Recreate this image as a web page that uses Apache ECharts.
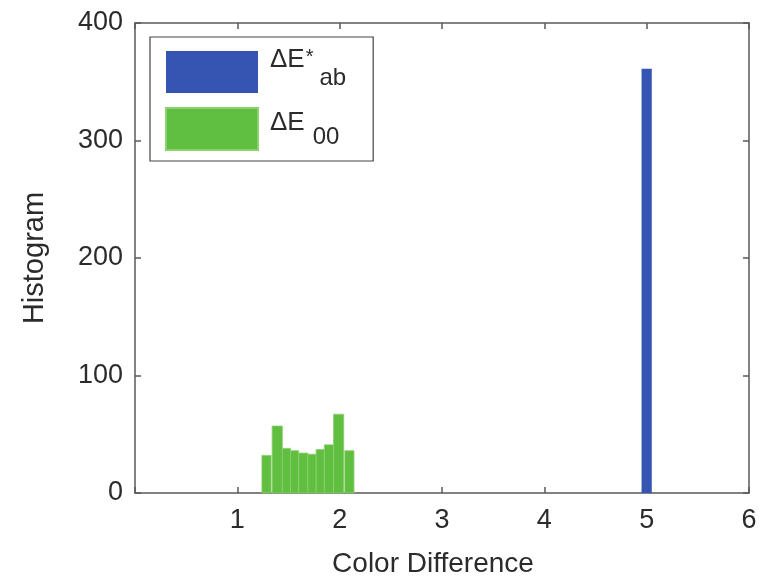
<!DOCTYPE html>
<html>
<head>
<meta charset="utf-8">
<script src="https://cdn.jsdelivr.net/npm/echarts@6/dist/echarts.min.js"></script>
<style>
  html, body { margin: 0; padding: 0; background: #fff; }
  #chart { width: 767px; height: 580px; }
</style>
</head>
<body>
<div id="chart"></div>
<script>
// Histogram bins: left edge, right edge (colour-difference units) and counts
const abBinStart = [4.95];
const abBinEnd   = [5.05];
const abCounts   = [361];

const e00BinStart = [1.24, 1.34, 1.44, 1.52, 1.60, 1.69, 1.77, 1.85, 1.94, 2.05];
const e00BinEnd   = [1.33, 1.44, 1.52, 1.60, 1.69, 1.77, 1.85, 1.94, 2.04, 2.14];
const e00Counts   = [32, 57, 38, 36, 34, 33, 37, 41, 67, 36];

const xTickValues = [0, 1, 2, 3, 4, 5, 6];
const yTickValues = [0, 100, 200, 300, 400];

const seriesNames = ['ΔE*ab', 'ΔE00'];

const FONT = '"Liberation Sans", Arial, Helvetica, sans-serif';
const AXIS_COLOR = '#5a5a5a';
const TEXT_COLOR = '#2b2b2b';

function toBins(starts, ends, counts) {
  return counts.map((c, i) => [starts[i], ends[i], c]);
}

// Each bin is a rectangle spanning its edges on the x scale, from 0 to its count
function renderBin(params, api) {
  const topLeft = api.coord([api.value(0), api.value(2)]);
  const bottomRight = api.coord([api.value(1), 0]);
  return {
    type: 'rect',
    shape: {
      x: topLeft[0],
      y: topLeft[1],
      width: bottomRight[0] - topLeft[0],
      height: bottomRight[1] - topLeft[1]
    },
    style: api.style()
  };
}

const xMin = xTickValues[0], xMax = xTickValues[xTickValues.length - 1];
const yMin = yTickValues[0], yMax = yTickValues[yTickValues.length - 1];
const xStep = xTickValues[1] - xTickValues[0];
const yStep = yTickValues[1] - yTickValues[0];

// Shared look of the four frame sides: line plus short inward ticks
function frameAxis() {
  return {
    axisLine: { show: true, onZero: false, lineStyle: { color: AXIS_COLOR, width: 1.5 } },
    axisTick: { show: true, inside: true, length: 6, lineStyle: { color: AXIS_COLOR, width: 1.5 } },
    splitLine: { show: false }
  };
}

const chart = echarts.init(document.getElementById('chart'), null, { renderer: 'canvas' });

chart.setOption({
  animation: false,
  backgroundColor: '#fff',
  grid: { left: 135, right: 18, top: 23, bottom: 87, outerBoundsMode: 'none', containLabel: false },
  xAxis: [
    Object.assign(frameAxis(), {
      type: 'value', min: xMin, max: xMax, interval: xStep, position: 'bottom',
      name: 'Color Difference', nameLocation: 'middle', nameGap: 57,
      nameTextStyle: { fontFamily: FONT, fontSize: 28, color: TEXT_COLOR, padding: [0, 18, 0, 0] },
      axisLabel: {
        fontFamily: FONT, fontSize: 27, color: TEXT_COLOR, margin: 14,
        formatter: v => (v === 0 ? '' : String(v))
      }
    }),
    Object.assign(frameAxis(), {
      type: 'value', min: xMin, max: xMax, interval: xStep, position: 'top',
      axisLabel: { show: false }
    })
  ],
  yAxis: [
    Object.assign(frameAxis(), {
      type: 'value', min: yMin, max: yMax, interval: yStep, position: 'left',
      name: 'Histogram', nameLocation: 'middle', nameGap: 86,
      nameTextStyle: { fontFamily: FONT, fontSize: 29, color: TEXT_COLOR },
      axisLabel: { fontFamily: FONT, fontSize: 27, color: TEXT_COLOR, margin: 12 }
    }),
    Object.assign(frameAxis(), {
      type: 'value', min: yMin, max: yMax, interval: yStep, position: 'right',
      axisLabel: { show: false }
    })
  ],
  legend: {
    orient: 'vertical',
    left: 150,
    top: 37,
    itemWidth: 92,
    itemHeight: 42,
    itemGap: 14,
    padding: [10, 27, 10, 15],
    icon: 'rect',
    selectedMode: false,
    borderColor: '#444',
    borderWidth: 1.2,
    backgroundColor: '#fff',
    data: seriesNames,
    formatter: name => (name === seriesNames[0]
      ? '{m1|ΔE}{sup|*}{s1|ab}'
      : '{m2|ΔE}{s2|00}'),
    textStyle: {
      color: TEXT_COLOR,
      fontFamily: FONT,
      rich: {
        m1: { fontFamily: FONT, fontSize: 26, color: TEXT_COLOR, padding: [0, 0, 24, 7] },
        sup: { fontFamily: FONT, fontSize: 20, color: TEXT_COLOR, padding: [0, 6, 30, 1] },
        s1: { fontFamily: FONT, fontSize: 24, color: TEXT_COLOR, padding: [12, 0, 0, 0] },
        m2: { fontFamily: FONT, fontSize: 26, color: TEXT_COLOR, padding: [0, 0, 12, 7] },
        s2: { fontFamily: FONT, fontSize: 24, color: TEXT_COLOR, padding: [16, 0, 0, 8] }
      }
    }
  },
  series: [
    {
      name: seriesNames[0],
      type: 'custom',
      renderItem: renderBin,
      encode: { x: [0, 1], y: 2 },
      itemStyle: { color: '#3654b1' },
      data: toBins(abBinStart, abBinEnd, abCounts)
    },
    {
      name: seriesNames[1],
      type: 'custom',
      renderItem: renderBin,
      encode: { x: [0, 1], y: 2 },
      itemStyle: { color: '#60be40', borderColor: '#8cd16f', borderWidth: 0.8 },
      data: toBins(e00BinStart, e00BinEnd, e00Counts)
    }
  ]
});
</script>
</body>
</html>
